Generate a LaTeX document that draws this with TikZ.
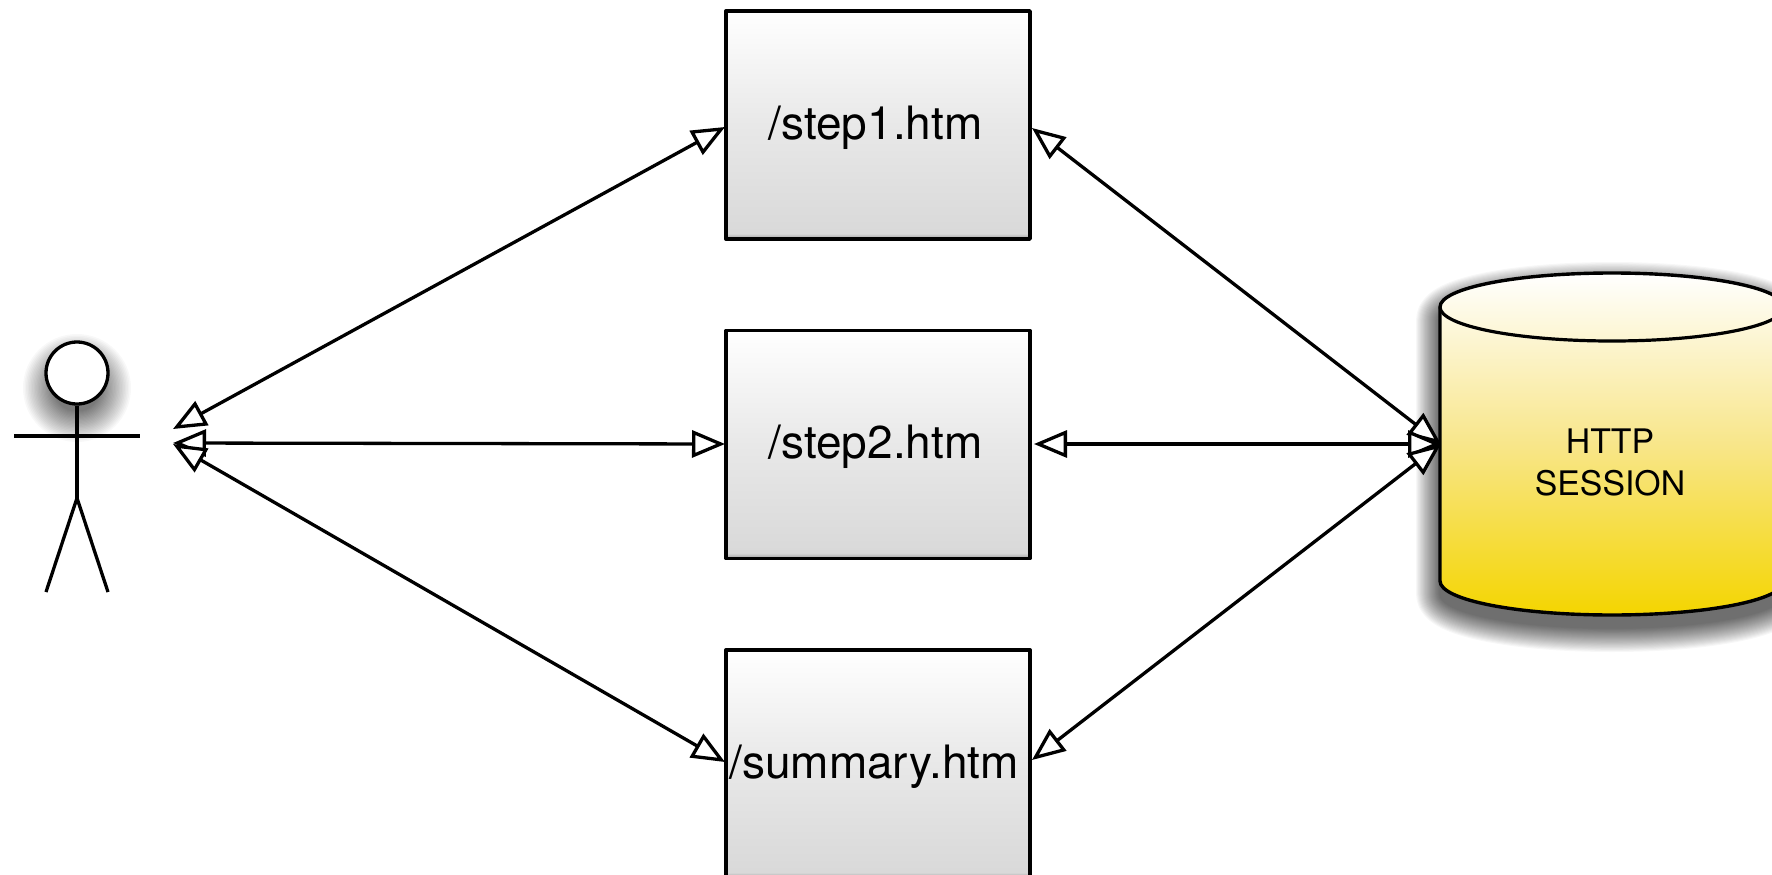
\documentclass[tikz,border=0pt]{standalone}
\usepackage{fontspec}
\setmainfont{TeX Gyre Heros}
\usetikzlibrary{arrows.meta}
\definecolor{cylB}{HTML}{F4D500}
\definecolor{cylM}{HTML}{F8E68A}
\definecolor{cylT}{HTML}{FFFFFF}
\pgfdeclareverticalshading{boxgrad}{100bp}{color(0bp)=(black!38);color(25bp)=(black!38);color(26.2bp)=(black!15);color(50bp)=(black!9);color(75bp)=(white);color(100bp)=(white)}
\pgfdeclareverticalshading{cylgrad}{100bp}{color(0bp)=(cylB);color(25bp)=(cylB);color(50bp)=(cylM);color(75bp)=(cylT);color(100bp)=(cylT)}
\def\cylout{(1440,307) -- (1440,581) .. controls (1440,600) and (1517,615) .. (1612,615) .. controls (1707,615) and (1784,600) .. (1784,581) -- (1784,307) .. controls (1784,288) and (1707,273) .. (1612,273) .. controls (1517,273) and (1440,288) .. (1440,307) -- cycle}
\tikzset{
  x=1pt,y=-1pt,
  page/.style={shading=boxgrad,draw=black,line width=3.4pt,line join=round,minimum width=304pt,minimum height=228pt,inner sep=0pt,
     font=\fontsize{46}{50}\selectfont,text height=38pt,text depth=10pt},
  opentip/.tip={Triangle[fill=white,length=33pt,width=27pt]},
  conn/.style={line width=3.3pt,opentip-opentip},
  limb/.style={line width=3.3pt},
  softA/.style={draw=black,fill=black,line join=round},
  softB/.style={draw=none,fill=black,opacity=.028}
}
\begin{document}
\begin{tikzpicture}
\useasboundingbox (0,0) rectangle (1772,875);
\fill[white] (0,0) rectangle (1772,875);
% soft shadows
\foreach \i [evaluate=\i as \d using {24*(\i/24)^1.1}] in {1,...,24}{
  \begin{scope}[transparency group,opacity=.032]
  \path[softA,line width=2*\d pt,yshift=-13pt] \cylout;
  \end{scope}
}
\foreach \i [evaluate=\i as \d using {31*(\i/24)^1.2}] in {1,...,24}{
  \path[softB] (77,388) circle[radius=(23+\d)*1pt];
}
% pages
\node[page] (step1) at (878,125) {/step1.htm\kern5pt};
\node[page] (step2) at (878,444.5) {/step2.htm\kern5pt};
\node[page] (summary) at (878,764) {/summary.htm\kern8pt};
% session store
\path[shading=cylgrad] \cylout;
\draw[line width=3.4pt,line join=round] \cylout;
\draw[line width=3.2pt] (1440,307) .. controls (1440,326) and (1517,341) .. (1612,341) .. controls (1707,341) and (1784,326) .. (1784,307);
\node[font=\fontsize{33.8}{42}\selectfont,align=center,inner sep=0pt] (session) at (1610,462) {HTTP\\SESSION};
% actor
\node[circle,draw=black,fill=white,line width=3.3pt,minimum size=62pt,inner sep=0pt] (head) at (77,373) {};
\coordinate (hip) at (77,498);
\coordinate (armL) at (14,436);
\coordinate (armR) at (140,436);
\coordinate (footL) at (46,592);
\coordinate (footR) at (108,592);
\draw[limb] (head.south) -- (hip);
\draw[limb] (armL) -- (armR);
\draw[limb] (footL) -- (hip) -- (footR);
% free ends
\coordinate (userA) at (173,429);
\coordinate (userB) at (173,443);
\coordinate (userC) at (173,444);
\coordinate (s1L) at (725,127);
\coordinate (s2L) at (725,444);
\coordinate (suL) at (725,762);
\coordinate (s1R) at (1032,128);
\coordinate (s2R) at (1034,444);
\coordinate (suR) at (1032,760);
\coordinate (dbA) at (1441,444);
% connectors
\draw[conn] (userA) -- (s1L);
\draw[conn] (userB) -- (s2L);
\draw[conn] (userC) -- (suL);
\draw[conn] (s1R) -- (dbA);
\draw[conn] (s2R) -- (dbA);
\draw[conn] (suR) -- (dbA);
\end{tikzpicture}
\end{document}
